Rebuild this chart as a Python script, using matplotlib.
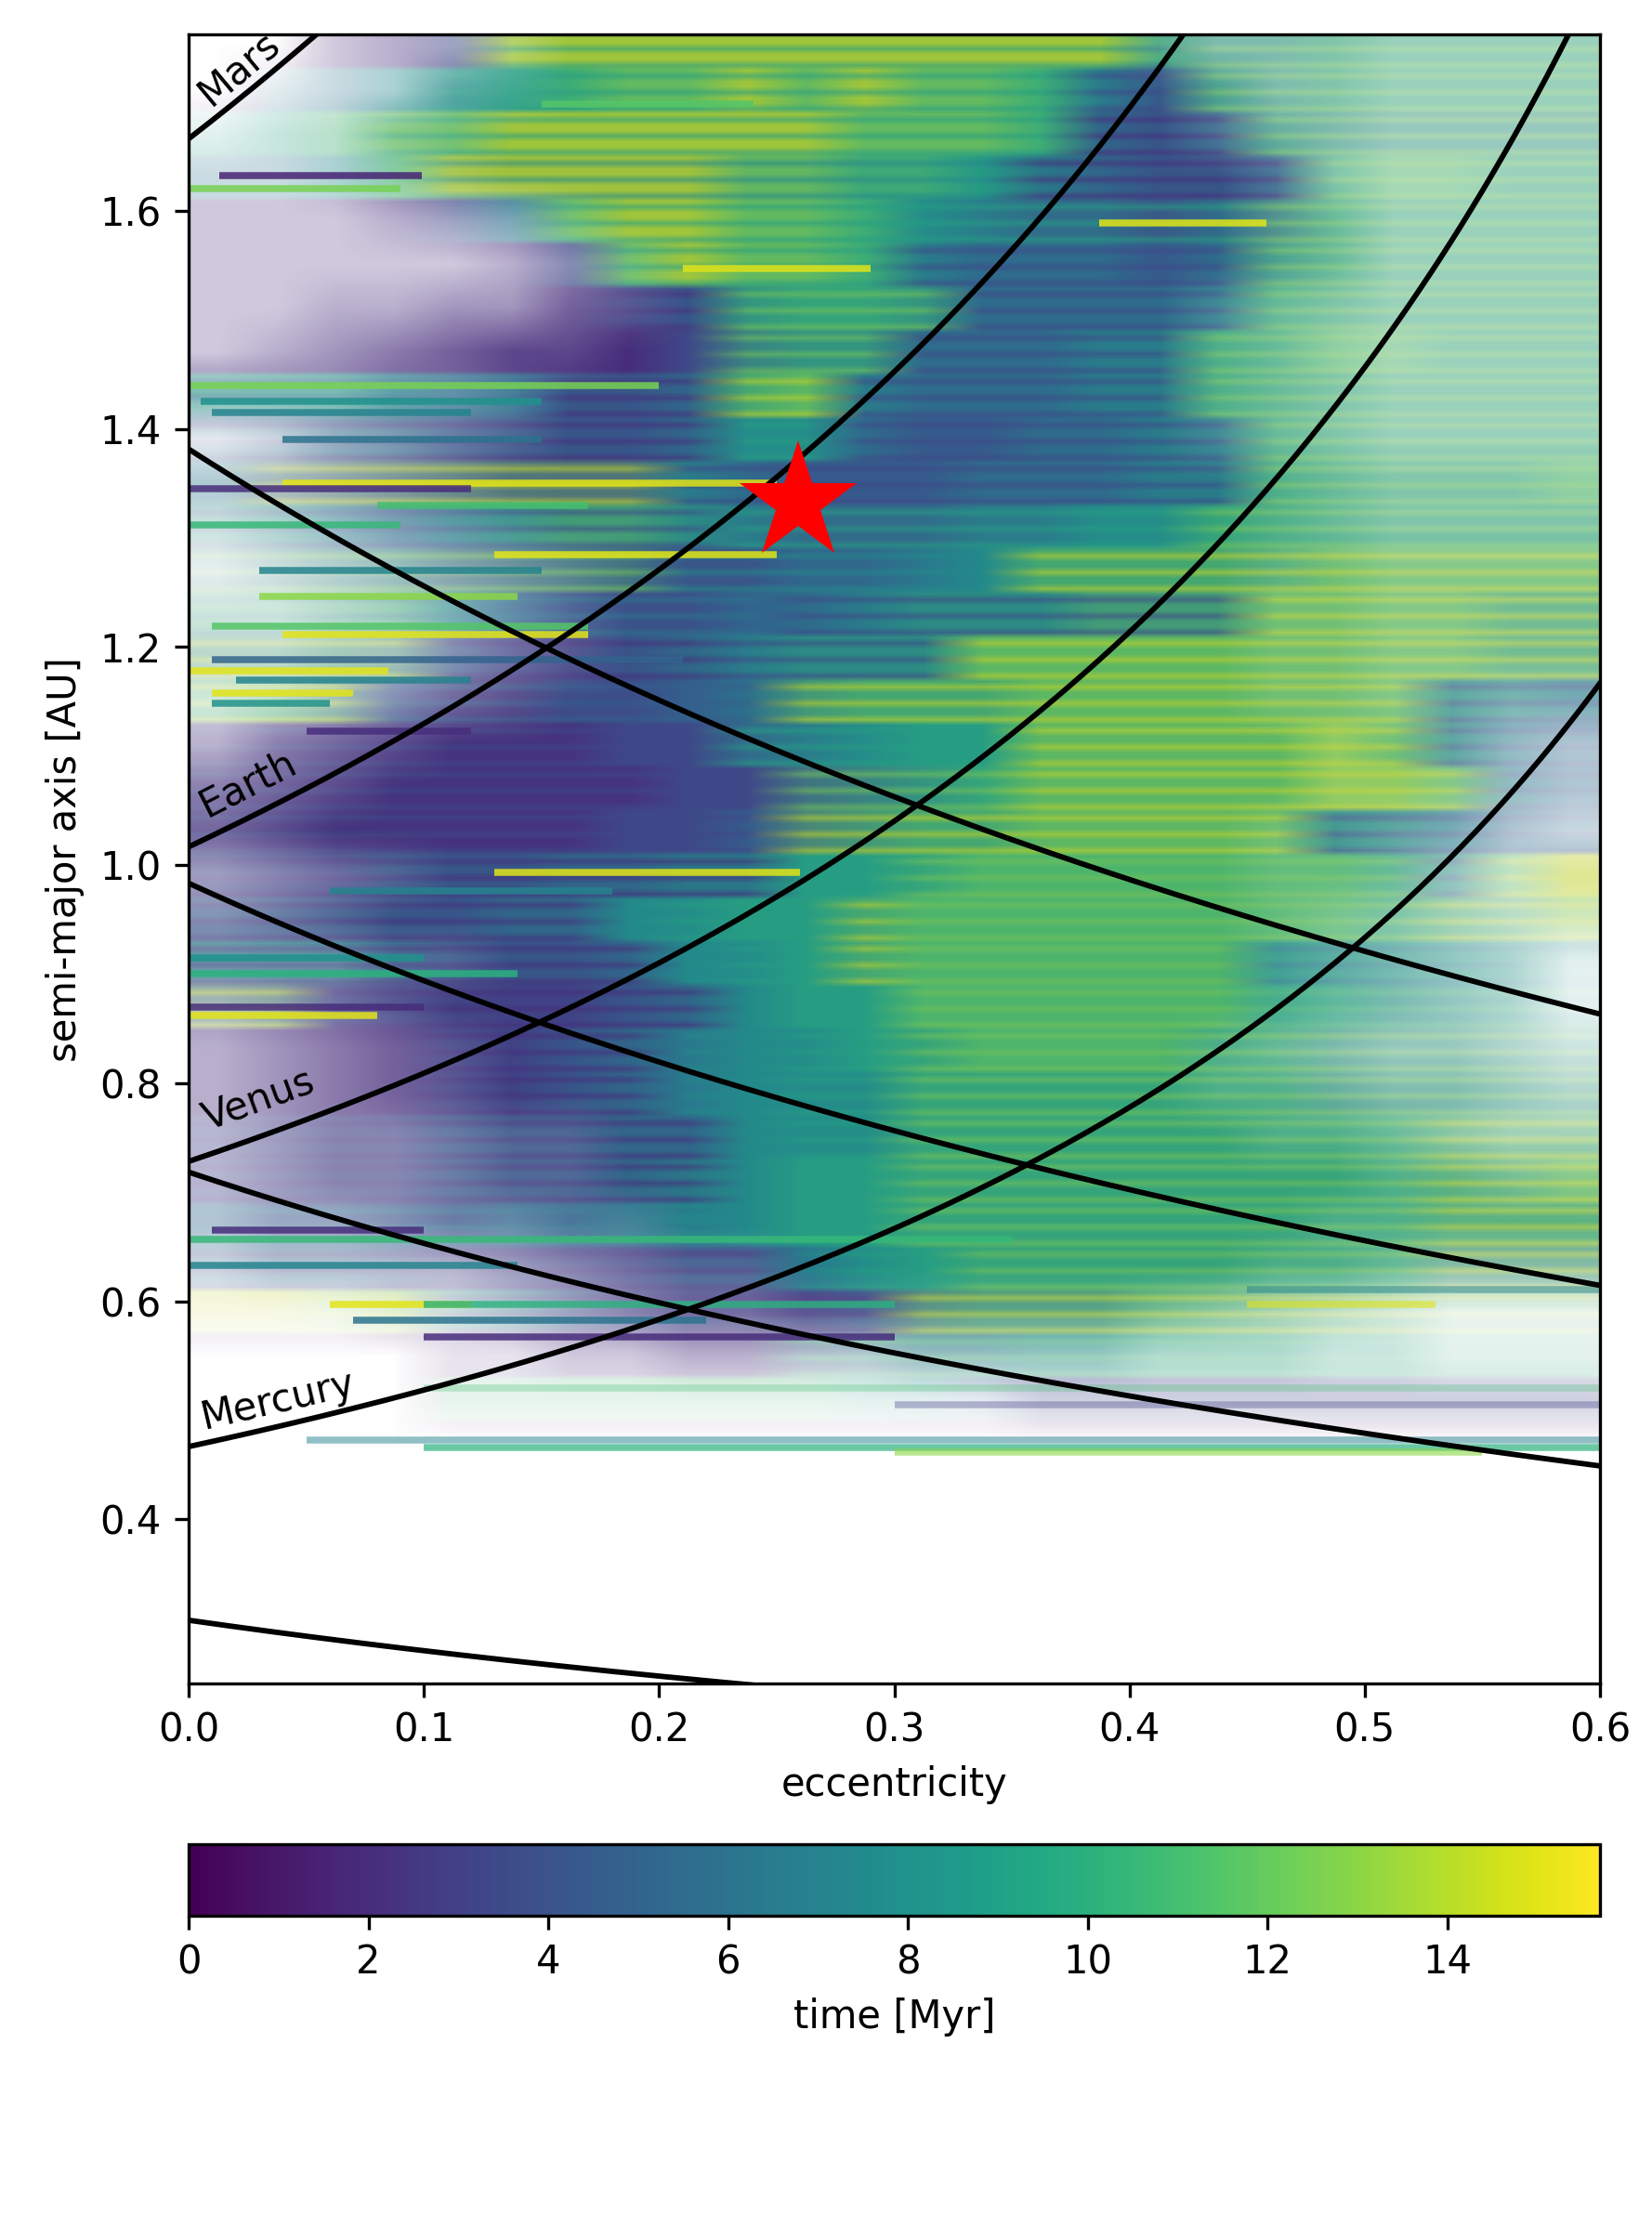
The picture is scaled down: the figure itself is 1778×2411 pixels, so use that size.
import numpy as np
import matplotlib
matplotlib.use("Agg")
import matplotlib.pyplot as plt
from matplotlib.colors import Normalize
from matplotlib.cm import ScalarMappable

# ---------------- data ----------------
planet_names = ["Mercury", "Venus", "Earth", "Mars"]
planet_peri = [0.3075, 0.7184, 0.9833, 1.3814]   # perihelion [AU]
planet_aph = [0.4667, 0.7282, 1.0167, 1.6660]    # aphelion [AU]

star_e = [0.259]
star_a = [1.332]

time_max = 15.7
time_levels = [0.5, 2.0, 3.5, 5.0, 6.5, 8.0, 9.5, 11.0, 12.5, 14.5]

# Cloud grid: 24 eccentricity columns (0..0.6, step 0.025) and 38 rows of
# semi-major axis (step 0.04) from a = 1.77 (top row) down to a = 0.25.
# time_rows / time2_rows: the two dominant time levels (index into time_levels)
# of the points in each cell; density_rows: point density ('.' empty, 8 = full).
time_rows = [
    "001129999999999975566666",
    "044556788989887535566666",
    "667889999998887434555555",
    "445799999887765433467766",
    "111124899887543323466666",
    "111111289887544434566666",
    "111111123566544445666666",
    "111111112455444556677666",
    "666544334675444556666666",
    "444433334554334455666666",
    "433333335433344455666667",
    "665456776433344556666666",
    "444433332233456666677777",
    "777753222345666777777766",
    "555432234566677777777766",
    "664211223456667777777665",
    "111111122345667777787654",
    "111111112234567777788754",
    "111111122345667777766544",
    "222333445566677777776679",
    "333334455666777777776668",
    "555433345566777777666666",
    "332222234566777777665555",
    "111122344556677776655555",
    "111122344555666666655555",
    "222233344555666666666666",
    "222233345566666666666667",
    "322223345566666666666666",
    "444322223345666666666555",
    "998865322223455566666666",
    "000011111123445566666666",
    "000077777776532222222222",
    "000000000000000000000000",
    "000000000000000000000000",
    "000000000000000000000000",
    "000000000000000000000000",
    "000000000000000000000000",
    "000000000000000000000000",
]
time2_rows = [
    "001126666666666648888888",
    "044566666666666228888888",
    "667666666666666111888888",
    "445755555555551111188888",
    "111124666666666666888888",
    "111111266666222222888888",
    "111111111888822222888888",
    "111111112888222228888888",
    "333333111992222228888888",
    "111111111662222222888888",
    "499999992222222222888888",
    "222222222666666668888888",
    "888888885555559999999999",
    "444444444422222222999999",
    "999911111222299999999999",
    "999333333399999999999222",
    "222222222666669999999222",
    "222222222288889999999922",
    "222222222299999999922222",
    "111111111166888888888299",
    "111111156669888888888999",
    "111111115669888888444444",
    "991111111566888888777777",
    "111111115566888888888888",
    "111111115566888888888888",
    "111111111566888888888999",
    "111111111566888888888999",
    "444444444566888888888999",
    "111111111156688888888999",
    "999911111111999999999999",
    "000011111177777777777777",
    "000077777776532222222222",
    "000000000000000000000000",
    "000000000000000000000000",
    "000000000000000000000000",
    "000000000000000000000000",
    "000000000000000000000000",
    "000000000000000000000000",
]
density_rows = [
    "..2346888888888875554444",
    ".12367888888888887554444",
    "123678888888888887654444",
    "223578888888888888754444",
    "222345788888888888764444",
    "222223578888888888764444",
    "223344678888888887654444",
    "234567788888888887654444",
    "555667888888888887654444",
    "124567888888888887654444",
    "345678888888888888765555",
    "234567888888888888765555",
    "123456788888888888776666",
    "223456788888888888776666",
    "334456788888888888776666",
    "234567888888888888776655",
    "356788888888888888877643",
    "567888888888888888877643",
    "678888888888888888776532",
    "456788888888888888776434",
    "567888888888888888765433",
    "666778888888888888765431",
    "456788888888888888765431",
    "345678888888888887654432",
    "345678888888888887765543",
    "345567788888888888776544",
    "345567788888888888887766",
    "344566778888888888877777",
    "233334567788888888776555",
    "111223456677777765432111",
    "....11223333444433322111",
    "....11111111112222222222",
    "........................",
    "........................",
    "........................",
    "........................",
    "........................",
    "........................",
]

# individual horizontal streaks: semi-major axis, e start, e end, time, density
streak_a = [1.698, 1.632, 1.620, 1.589, 1.547, 1.440, 1.425, 1.415, 1.390, 1.350,
            1.345, 1.330, 1.312, 1.285, 1.270, 1.246, 1.219, 1.211, 1.188, 1.178,
            1.170, 1.158, 1.148, 1.123, 0.993, 0.976, 0.915, 0.900, 0.870, 0.862,
            0.665, 0.657, 0.633, 0.611, 0.597, 0.597, 0.597, 0.583, 0.567, 0.520,
            0.505, 0.473, 0.466, 0.462]
streak_e0 = [0.15, 0.013, 0.0, 0.387, 0.21, 0.0, 0.005, 0.01, 0.04, 0.04,
             0.0, 0.08, 0.0, 0.13, 0.03, 0.03, 0.01, 0.04, 0.01, 0.0,
             0.02, 0.01, 0.01, 0.05, 0.13, 0.06, 0.0, 0.0, 0.0, 0.0,
             0.01, 0.0, 0.0, 0.45, 0.06, 0.10, 0.45, 0.07, 0.10, 0.10,
             0.30, 0.05, 0.10, 0.30]
streak_e1 = [0.24, 0.099, 0.09, 0.458, 0.29, 0.20, 0.15, 0.12, 0.15, 0.25,
             0.12, 0.17, 0.09, 0.25, 0.15, 0.14, 0.17, 0.17, 0.21, 0.085,
             0.12, 0.07, 0.06, 0.12, 0.26, 0.18, 0.10, 0.14, 0.10, 0.08,
             0.10, 0.35, 0.14, 0.60, 0.12, 0.30, 0.53, 0.22, 0.30, 0.60,
             0.60, 0.60, 0.60, 0.55]
streak_t = [11.5, 1.5, 12.5, 15.0, 15.0, 12.5, 8.0, 7.0, 6.0, 15.0,
            2.0, 11.0, 10.5, 15.0, 7.0, 13.0, 11.5, 15.0, 5.0, 15.0,
            7.0, 15.0, 8.0, 2.0, 15.0, 7.0, 8.0, 10.0, 2.0, 15.0,
            2.0, 10.5, 7.0, 7.0, 15.0, 10.0, 15.0, 6.0, 2.0, 11.0,
            3.0, 7.0, 10.0, 13.0]
streak_dens = [0.85, 0.85, 0.85, 0.85, 0.85, 0.85, 0.85, 0.85, 0.85, 0.85,
               0.85, 0.85, 0.85, 0.85, 0.85, 0.85, 0.85, 0.85, 0.85, 0.85,
               0.85, 0.85, 0.85, 0.85, 0.85, 0.85, 0.85, 0.85, 0.85, 0.85,
               0.85, 0.85, 0.85, 0.50, 0.85, 0.80, 0.60, 0.85, 0.85, 0.30,
               0.35, 0.50, 0.70, 0.60]

# label placement along the aphelion curves (baseline start e, height above curve)
label_e = [0.0067, 0.0079, 0.0079, 0.0094]
label_da = [0.0132, 0.0225, 0.0192, 0.0135]

# ---------------- figure ----------------
plt.rcParams["font.family"] = ["DejaVu Sans"]
plt.rcParams["font.size"] = 10

DPI = 300
fig = plt.figure(figsize=(1778 / DPI, 2411 / DPI), dpi=DPI)
ax = fig.add_axes([0.1142, 0.2484, 0.8543, 0.7362])
cax = fig.add_axes([0.1142, 0.14475, 0.8543, 0.0319])

cmap = plt.get_cmap("viridis")
norm = Normalize(0, time_max)

t1 = np.array([[time_levels[int(c)] for c in row] for row in time_rows])
t2 = np.array([[time_levels[int(c)] for c in row] for row in time2_rows])
dens = np.array([[0.0 if c == "." else min(int(c) / 8.0, 1.0) for c in row]
                 for row in density_rows])

# each cell: thin horizontal sub-stripes of its two populations (soft contrast),
# slightly mixed with the early (dark) population present everywhere
c1 = cmap(norm(t1))[..., :3]
c2 = cmap(norm(t2))[..., :3]
sub_pattern = [0, 1, 0, 0, 1, 0, 0, 1]
w1 = sub_pattern.count(0) / len(sub_pattern)
mean_c = w1 * c1 + (1 - w1) * c2
dark = np.array(cmap(norm(2.5))[:3])
contrast = 0.45
rows = []
for i in range(len(time_rows)):
    for s in sub_pattern:
        own = c1[i] if s == 0 else c2[i]
        col = mean_c[i] + contrast * (own - mean_c[i])
        rows.append(0.9 * col + 0.1 * dark)
stripe_rgb = np.clip(np.array(rows), 0, 1)

extent = (0.0, 0.6, 0.25, 1.77)
ax.imshow(stripe_rgb, extent=extent, origin="upper", aspect="auto",
          interpolation="bilinear", zorder=1)

veil = np.ones(dens.shape + (4,))
veil[..., 3] = 1.0 - dens
ax.imshow(veil, extent=extent, origin="upper", aspect="auto",
          interpolation="bilinear", zorder=1.5)

for a, e0, e1, t, d in zip(streak_a, streak_e0, streak_e1, streak_t, streak_dens):
    ax.hlines(a, e0, e1, colors=[cmap(norm(t))], linewidth=1.8, alpha=d, zorder=2)

ax.set_xlim(0.0, 0.6)
ax.set_ylim(0.2494, 1.7616)

ecc = np.linspace(0.0, 0.6, 400)
for q in planet_peri:
    ax.plot(ecc, q / (1.0 + ecc), color="black", lw=1.4, zorder=4)
for Q in planet_aph:
    ax.plot(ecc, Q / (1.0 - ecc), color="black", lw=1.4, zorder=4)

for name, Q, le, lda in zip(planet_names, planet_aph, label_e, label_da):
    em = le + 0.03
    p1 = ax.transData.transform((em - 0.005, Q / (1 - em + 0.005)))
    p2 = ax.transData.transform((em + 0.005, Q / (1 - em - 0.005)))
    ang = np.degrees(np.arctan2(p2[1] - p1[1], p2[0] - p1[0]))
    ax.text(le, Q / (1 - le) + lda, name, rotation=ang, rotation_mode="anchor",
            ha="left", va="baseline", fontsize=10, zorder=5)

ax.plot(star_e, star_a, marker="*", ms=32, color="red", mec="red", mew=0,
        linestyle="none", zorder=6)

ax.set_xlabel("eccentricity")
ax.set_ylabel("semi-major axis [AU]")

sm = ScalarMappable(norm=norm, cmap=cmap)
cb = fig.colorbar(sm, cax=cax, orientation="horizontal")
cb.set_label("time [Myr]")

fig.savefig("out.png", dpi=DPI)
